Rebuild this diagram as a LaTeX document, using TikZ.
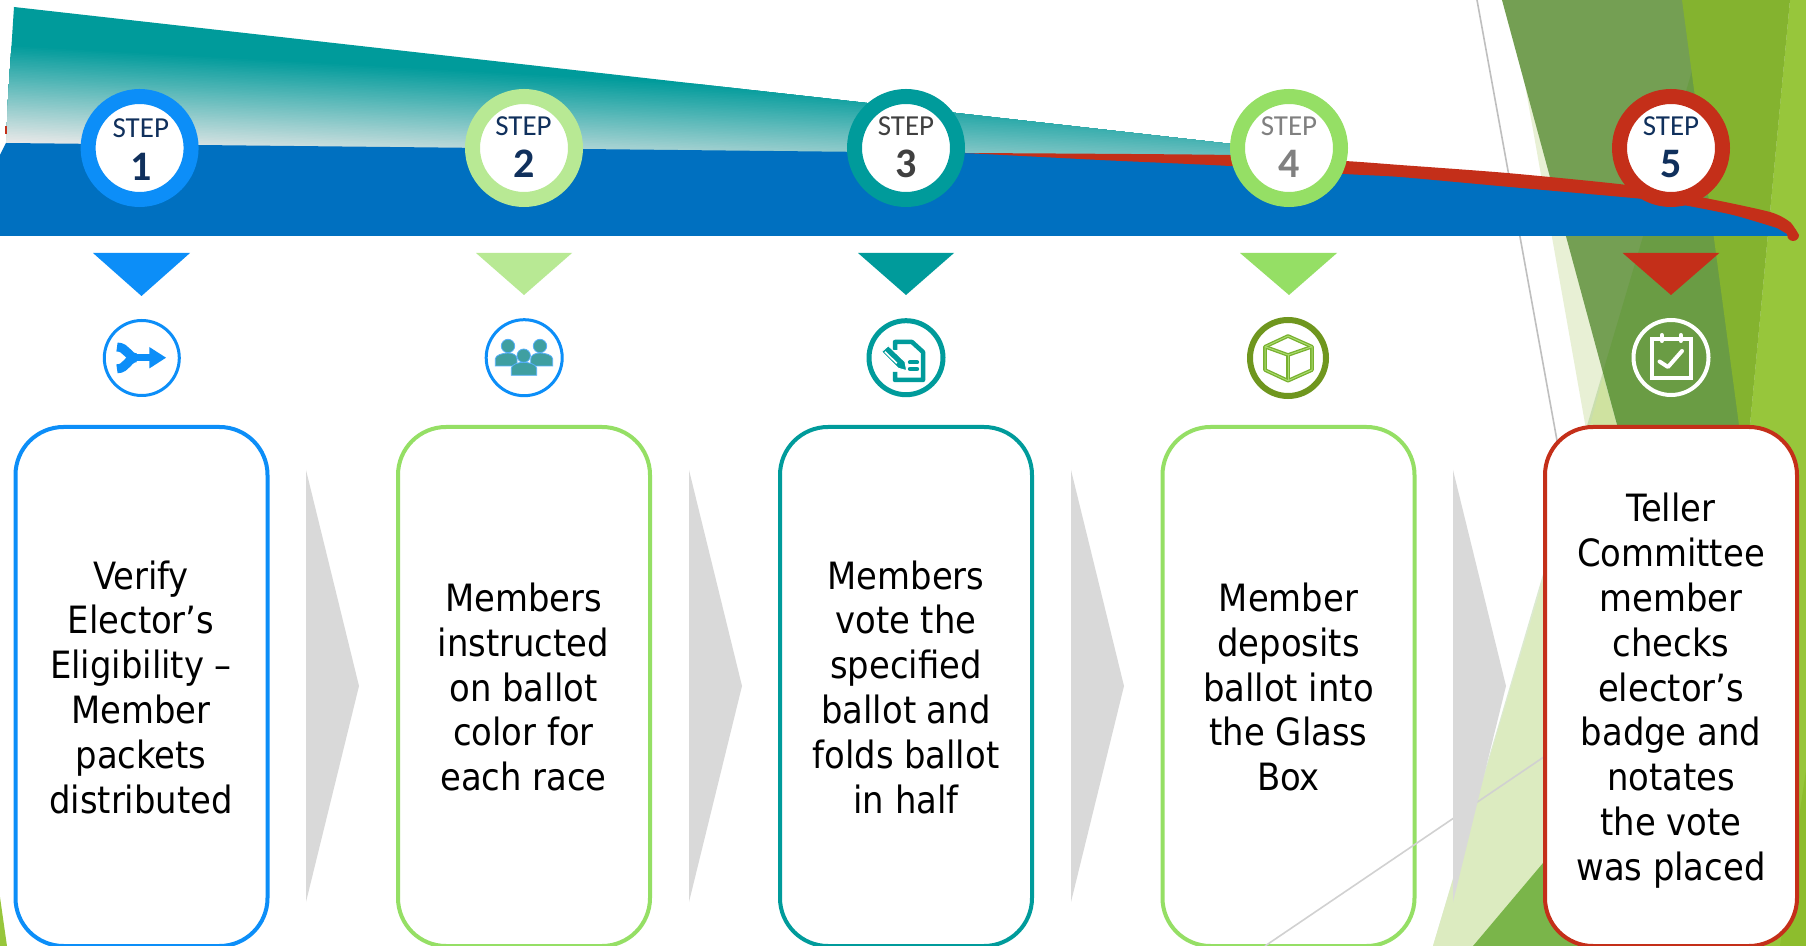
\documentclass[tikz,border=0pt]{standalone}
\usepackage{fontspec}
\setmainfont{DejaVu Sans Condensed}
\newfontfamily\stepfont{Carlito}
\definecolor{cBlue}{HTML}{0C8EF8}
\definecolor{cPale}{HTML}{B8E994}
\definecolor{cTeal}{HTML}{009B9B}
\definecolor{cLime}{HTML}{95DF65}
\definecolor{cRed}{HTML}{C42F19}
\definecolor{cBand}{HTML}{0070C0}
\definecolor{cLight}{HTML}{E8E8E8}
\definecolor{cNavy}{HTML}{10305C}
\definecolor{cArrow}{HTML}{D9D9D9}
\definecolor{cOlive}{HTML}{6F961E}
\tikzset{
  x=0.5pt, y=-0.5pt,
  ring/.style={circle, fill=white, draw=#1, line width=7.5pt, minimum size=51.5pt, inner sep=0pt},
  stepword/.style={font=\stepfont\fontsize{14.5pt}{16pt}\selectfont, inner sep=0pt},
  stepnum/.style={font=\stepfont\bfseries\fontsize{21pt}{24pt}\selectfont, inner sep=0pt},
  iconring/.style={circle, draw=#1, inner sep=0pt, minimum size=38pt},
  card/.style={draw=#1, fill=white, line width=2pt, rounded corners=24pt, minimum width=126pt, minimum height=259.5pt, inner sep=0pt},
  cardtext/.style={font=\fontsize{18.8pt}{22.4pt}\selectfont, align=center, inner sep=0pt, execute at begin node=\strut, execute at end node=\strut},
  tri/.style={fill=#1},
  chevron/.style={fill=cArrow},
  gline/.style={line width=0.8pt}
}
\begin{document}
\begin{tikzpicture}
\useasboundingbox (0,0) rectangle (1806,946);
\fill[white] (0,0) rectangle (1806,946);
% facets
\draw[gline, color=black!25] (1477,0) -- (1558,446);
\fill[color={rgb,255:red,232;green,240;blue,213}] (1510,0) -- (1595,480) -- (1745,480) -- (1682,0) -- cycle;
\fill[color={rgb,255:red,116;green,159;blue,83}] (1502,0) -- (1632,480) -- (1755,480) -- (1692,0) -- cycle;
\fill[color={rgb,255:red,61;green,144;blue,0}, fill opacity=0.18] (1713,0) -- (1433,946) -- (1806,946) -- (1806,0) -- cycle;
\fill[color={rgb,255:red,207;green,226;blue,160}] (1603,377) -- (1590,425) -- (1575,480) -- (1632,480) -- cycle;
\fill[color={rgb,255:red,220;green,235;blue,192}] (1590,425) -- (1433,946) -- (1600,946) -- (1600,425) -- cycle;
\fill[color={rgb,255:red,151;green,198;blue,59}] (1790,0) -- (1806,0) -- (1806,946) -- (1700,946) -- (1750,425) -- cycle;
\fill[color={rgb,255:red,141;green,189;blue,45}] (1806,770) -- (1780,946) -- (1806,946) -- cycle;
\fill[color={rgb,255:red,132;green,179;blue,47}] (1682,0) -- (1790,0) -- (1750,425) -- (1739,425) -- cycle;
\fill[color={rgb,255:red,122;green,181;blue,74}] (1543,863) -- (1473,946) -- (1600,946) -- (1600,863) -- cycle;
\fill[color={rgb,255:red,151;green,198;blue,59}] (0,897) -- (7,946) -- (0,946) -- cycle;
% teal wedge with tilted gradient
\begin{scope}
\clip (14,7) -- (1240,145) -- (1240,160) -- (6,146) -- (8,100) -- cycle;
\fill[cTeal] (0,0) rectangle (1300,300);
\foreach \i in {1,...,60}{
  \pgfmathsetmacro{\p}{100*\i/60}
  \pgfmathsetmacro{\ya}{44+97*\i/60}
  \pgfmathsetmacro{\yb}{\ya+0.055*1300}
  \fill[color=cLight!\p!cTeal] (0,\ya) -- (1300,\yb) -- (1300,300) -- (0,300) -- cycle;
}
\end{scope}
\fill[cRed] (5,126) rectangle (7,134);
% band
\fill[cBand] (0,155) -- (6,143) -- (965,153) -- (1230,160) -- (1400,172) -- (1510,182) -- (1643,195) -- (1733,212) -- (1777,226) -- (1790,236) -- (0,236) -- cycle;
% red ribbon
\fill[cRed] plot[smooth, tension=0.4] coordinates {(965,153) (1230,155) (1345,161) (1400,165) (1507,173) (1627,185) (1705,198) (1770,212) (1790,222) (1799,235)}
  arc[start angle=0, end angle=190, radius=6]
  -- plot[smooth, tension=0.4] coordinates {(1777,228) (1733,215) (1683,205) (1643,199) (1510,187) (1400,177) (1345,174) (1230,166) (1100,160) (965,153)} -- cycle;
% rings
\foreach \n/\cx/\col/\tcol/\tx/\sy in {one/139.6/cBlue/cNavy/140.8/128/, two/524/cPale/cNavy/523.5/126/, three/906/cTeal/black!75/906/126/, four/1289/cLime/black!50/1289/126/, five/1671/cRed/cNavy/1671/126/}{
  \node[ring=\col] (ring\n) at (\cx,148) {};
  \node[stepword, text=\tcol] (word\n) at (\tx,\sy) {STEP};
}
\node[stepnum, text=cNavy] (d1) at (140.8,167) {1};
\node[stepnum, text=cNavy] (d2) at (524,164) {2};
\node[stepnum, text=black!75] (d3) at (906,164) {3};
\node[stepnum, text=black!50] (d4) at (1289,164) {4};
\node[stepnum, text=cNavy] (d5) at (1671,164) {5};
% triangles
\fill[tri=cBlue] (93,253) -- (190,253) -- (141.5,296) -- cycle;
\fill[tri=cPale] (476,253) -- (572,253) -- (524,295) -- cycle;
\fill[tri=cTeal] (858,253) -- (954,253) -- (906,295) -- cycle;
\fill[tri=cLime] (1240,253) -- (1337,253) -- (1289,295) -- cycle;
\fill[tri=cRed] (1622.7,253) -- (1719.3,253) -- (1671,295) -- cycle;
% icon circles
\node[iconring=cBlue, line width=1.5pt, minimum size=37.5pt] (icona) at (141.8,358) {};
\node[iconring=cBlue, line width=1.5pt] (iconb) at (524.2,357.7) {};
\node[iconring=cTeal, line width=2.5pt, minimum size=37pt] (iconc) at (906,357.7) {};
\node[iconring=cOlive, line width=3pt, minimum size=38pt] (icond) at (1288,358) {};
\node[iconring=white, line width=2pt, minimum size=37.5pt] (icone) at (1671,357.5) {};
% icon 1: merge arrow
\draw[cBlue, line width=4.5pt, line cap=butt] (117,347) .. controls (127,347) and (128,357.7) .. (136,357.7);
\draw[cBlue, line width=4.5pt, line cap=butt] (117,368.8) .. controls (127,368.8) and (128,357.7) .. (136,357.7);
\draw[cBlue, line width=3.4pt] (132,357.7) -- (152,357.7);
\fill[cBlue] (149.3,347) -- (166,357.7) -- (149.3,368.5) -- cycle;
% icon 2: people
\foreach \hx/\hy/\bl/\br/\bt in {508/346/495.3/517/353, 540/346/530.7/552.7/353, 523.7/355.7/511.3/536.7/362.3}{
  \fill[color={rgb,255:red,63;green,159;blue,161}, draw=cBlue!70!white, line width=0.4pt] (\hx,\hy) circle[radius=6.7];
  \pgfmathsetmacro{\bb}{\bt+13}
  \fill[color={rgb,255:red,63;green,159;blue,161}, draw=cBlue!70!white, line width=0.4pt] (\bl,\bb) -- (\bl,\bt+6) .. controls (\bl,\bt+2) and (\hx-5,\bt) .. (\hx,\bt) .. controls (\hx+5,\bt) and (\br,\bt+2) .. (\br,\bt+6) -- (\br,\bb) -- cycle;
}
% icon 3: document and pencil
\draw[cTeal, line width=2.25pt, line join=round] (895,350) -- (895,342) -- (912,342) -- (923,352) -- (923,380) -- (895,380) -- (895,372);
\fill[cTeal, draw=white, line width=0.5pt, line join=round] (881.7,351.7) -- (888.3,345.7) -- (905,361.7) -- (906.7,370.7) -- (898.3,368.3) -- cycle;
\draw[white, line width=0.8pt] (885,351.7) -- (896.7,363.3);
\draw[cTeal, line width=2.2pt, line cap=round] (910,362.3) -- (917,362.3);
\draw[cTeal, line width=2.2pt, line cap=round] (910,369) -- (917,369);
% icon 4: box
\foreach \wd/\colr in {1.8pt/{rgb,255:red,120;green,176;blue,47}, 0.5pt/{rgb,255:red,170;green,220;blue,110}}{
  \draw[color=\colr, line width=\wd, line join=round] (1288,336) -- (1312,346.7) -- (1312,370) -- (1288,380.7) -- (1265,370) -- (1265,346.7) -- cycle;
  \draw[color=\colr, line width=\wd, line join=round] (1265,346.7) -- (1288,355) -- (1312,346.7);
  \draw[color=\colr, line width=\wd] (1288,355) -- (1288,380.7);
}
% icon 5: calendar
\draw[white, line width=2pt] (1652,339) rectangle (1691,378);
\draw[white, line width=2pt, line cap=round] (1661.7,335) -- (1661.7,341);
\draw[white, line width=2pt, line cap=round] (1680.7,335) -- (1680.7,341);
\draw[white, line width=2pt, line cap=round, line join=round] (1659.5,361.5) -- (1668,367) -- (1682,351);
% cards
\node[card=cBlue] (carda) at (141.5,686.5) {};
\node[card=cLime] (cardb) at (524,686.5) {};
\node[card=cTeal] (cardc) at (906,686.5) {};
\node[card=cLime] (cardd) at (1288.5,686.5) {};
% line across card 4
\coordinate (linea) at (1265,946);
\coordinate (lineb) at (1560,746);
\draw[gline, color=black!18] (linea) -- (lineb);
% chevrons
\foreach \ax in {306,689,1071,1453}{
  \fill[chevron] (\ax,470) -- (\ax+53,686) -- (\ax,902) -- cycle;
}
\node[card=cRed] (carde) at (1671,686.5) {};
\node[cardtext] (texta) at (141,693.5) {Verify\\Elector’s\\Eligibility –\\Member\\packets\\distributed};
\node[cardtext] (textb) at (523.5,693.5) {Members\\instructed\\on ballot\\color for\\each race};
\node[cardtext] (textc) at (906,693.5) {Members\\vote the\\specified\\ballot and\\folds ballot\\in half};
\node[cardtext] (textd) at (1288.5,693.5) {Member\\deposits\\ballot into\\the Glass\\Box};
\node[cardtext] (texte) at (1671,693.5) {Teller\\Committee\\member\\checks\\elector’s\\badge and\\notates\\the vote\\was placed};
\end{tikzpicture}
\end{document}
